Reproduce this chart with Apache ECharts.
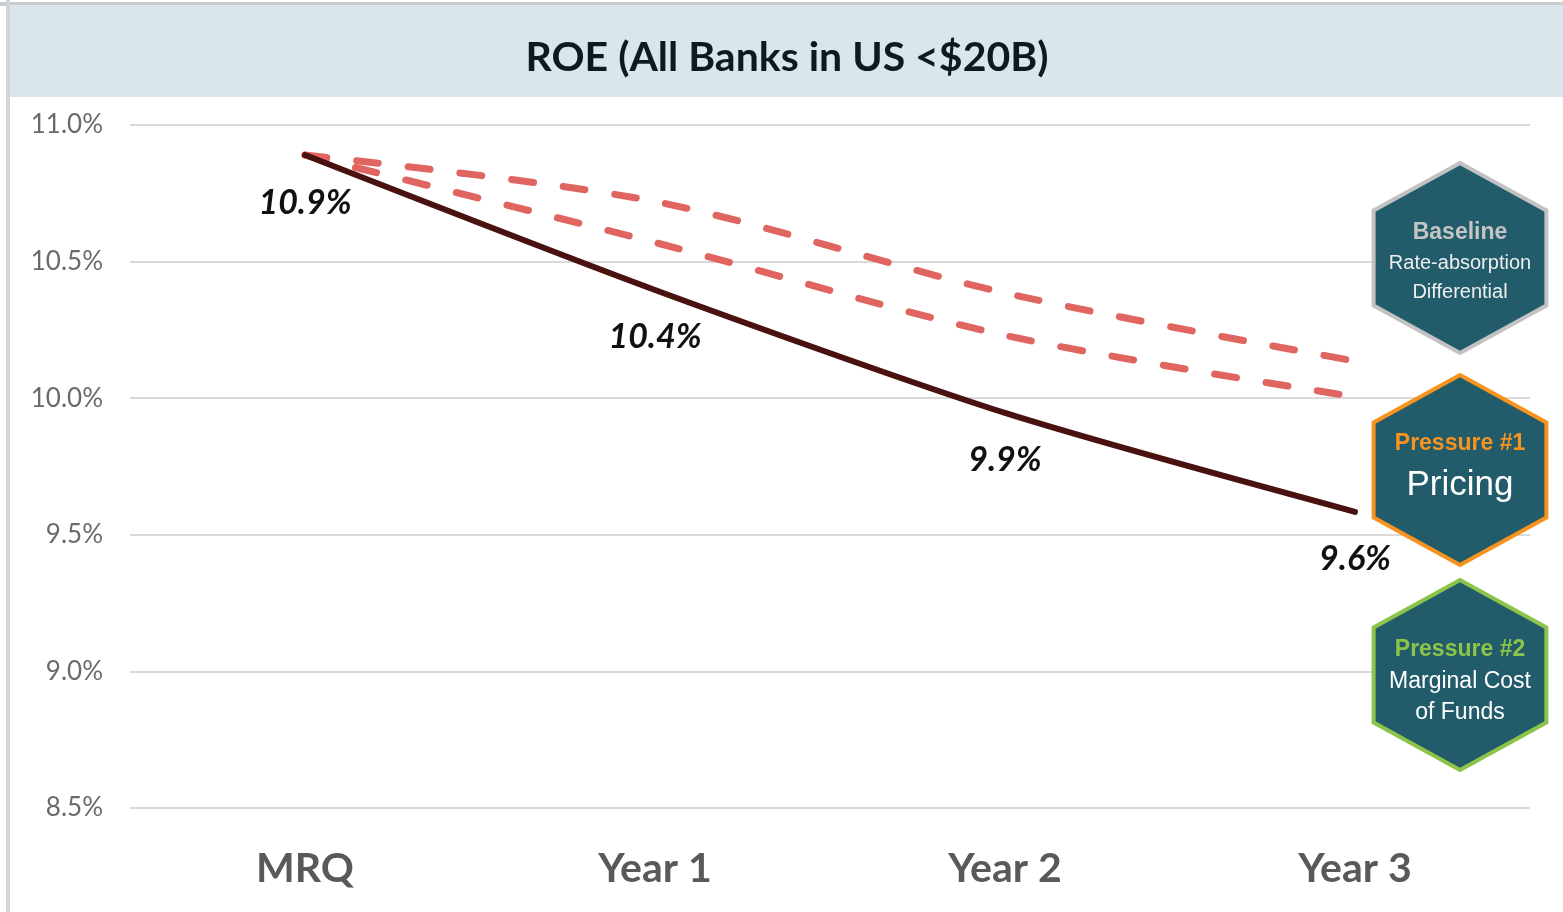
<!DOCTYPE html>
<html><head><meta charset="utf-8">
<script src="https://cdn.jsdelivr.net/npm/echarts@6/dist/echarts.min.js"></script>
<style>html,body{margin:0;padding:0;background:#fff}#c{width:1563px;height:912px}</style>
</head><body><div id="c"></div>
<script>
const categories = ['MRQ', 'Year 1', 'Year 2', 'Year 3'];
const roeProjected = [10.89, 10.396, 9.946, 9.584];
const baselineDifferential = [10.89, 10.72, 10.385, 10.136];
const pricingPressure = [10.89, 10.57, 10.23, 10.005];
const yMin = 8.5, yMax = 11.0, yStep = 0.5;
const titleText = 'ROE (All Banks in US <$20B)';

const hexFill = '#225c6b';
function hexPoints(cx, cy, r) {
  const pts = [];
  for (let i = 0; i < 6; i++) {
    const a = Math.PI / 180 * (60 * i - 90);
    pts.push([cx + r * 1.05 * Math.cos(a), cy + r * Math.sin(a)]);
  }
  return pts;
}
function hex(cx, cy, stroke) {
  return {type: 'polygon', z: 10, shape: {points: hexPoints(cx, cy, 95)},
    style: {fill: hexFill, stroke: stroke, lineWidth: 4, lineJoin: 'miter'}};
}
function txt(x, y, s, size, color, weight) {
  return {type: 'text', z: 11, x: x, y: y,
    style: {text: s, fontSize: size, fill: color, fontWeight: weight || 'normal',
      fontFamily: 'Liberation Sans, Arial, sans-serif', align: 'center', verticalAlign: 'middle'}};
}

const chart = echarts.init(document.getElementById('c'));
chart.setOption({
  animation: false,
  grid: {left: 130, right: 33, top: 125, bottom: 104, containLabel: false},
  xAxis: {
    type: 'category', data: categories, boundaryGap: true,
    axisLine: {show: false}, axisTick: {show: false},
    axisLabel: {fontFamily: 'Lato', fontWeight: 'bold', fontSize: 41, color: '#595959', margin: 40}
  },
  yAxis: {
    type: 'value', min: yMin, max: yMax, interval: yStep,
    axisLine: {show: false}, axisTick: {show: false},
    splitLine: {lineStyle: {color: '#d9d9d9', width: 2}},
    axisLabel: {fontFamily: 'Lato', fontSize: 26, color: '#6a6a6a', margin: 27,
      formatter: v => v.toFixed(1) + '%'}
  },
  series: [
    {name: 'Baseline Rate-absorption Differential', type: 'line', data: baselineDifferential,
      smooth: 0.3, symbol: 'none', z: 2,
      lineStyle: {color: '#e06560', width: 7, type: [22, 30], cap: 'round'}},
    {name: 'Pressure #1 Pricing', type: 'line', data: pricingPressure,
      smooth: 0.3, symbol: 'none', z: 2,
      lineStyle: {color: '#e06560', width: 7, type: [22, 30], cap: 'round'}},
    {name: 'ROE', type: 'line', data: roeProjected,
      smooth: 0.25, symbol: 'circle', symbolSize: 1, showSymbol: true, z: 3,
      itemStyle: {color: 'rgba(0,0,0,0)', borderWidth: 0},
      lineStyle: {color: '#4a1111', width: 6, cap: 'round'},
      label: {show: true, position: 'bottom', distance: 30,
        fontFamily: 'Lato', fontWeight: 'bold', fontStyle: 'italic', fontSize: 34, color: '#111',
        formatter: p => p.value.toFixed(1) + '%'}}
  ],
  graphic: [
    {type: 'rect', z: 0, shape: {x: 0, y: 2, width: 1563, height: 4}, style: {fill: '#c9cdd0'}},
    {type: 'rect', z: 0, shape: {x: 9, y: 5, width: 1554, height: 92}, style: {fill: '#dbe6ec'}},
    {type: 'rect', z: 0, shape: {x: 6, y: 0, width: 4, height: 912}, style: {fill: '#d4d4d4'}},
    {type: 'text', z: 5, x: 787, y: 58,
      style: {text: titleText, fontFamily: 'Lato', fontWeight: 'bold', fontSize: 41, fill: '#0e1a22',
        align: 'center', verticalAlign: 'middle'}},
    hex(1460, 258, '#c2c2c2'),
    txt(1460, 233, 'Baseline', 23, '#c4c4c4', 'bold'),
    txt(1460, 263, 'Rate-absorption', 20, '#eeeeee'),
    txt(1460, 292, 'Differential', 20, '#eeeeee'),
    hex(1460, 470, '#f7931e'),
    txt(1460, 444, 'Pressure #1', 23, '#f7931e', 'bold'),
    txt(1460, 485, 'Pricing', 35, '#ffffff'),
    hex(1460, 675, '#8cc44a'),
    txt(1460, 650, 'Pressure #2', 23, '#8cc44a', 'bold'),
    txt(1460, 682, 'Marginal Cost', 23, '#ffffff'),
    txt(1460, 713, 'of Funds', 23, '#ffffff')
  ]
});
</script></body></html>
